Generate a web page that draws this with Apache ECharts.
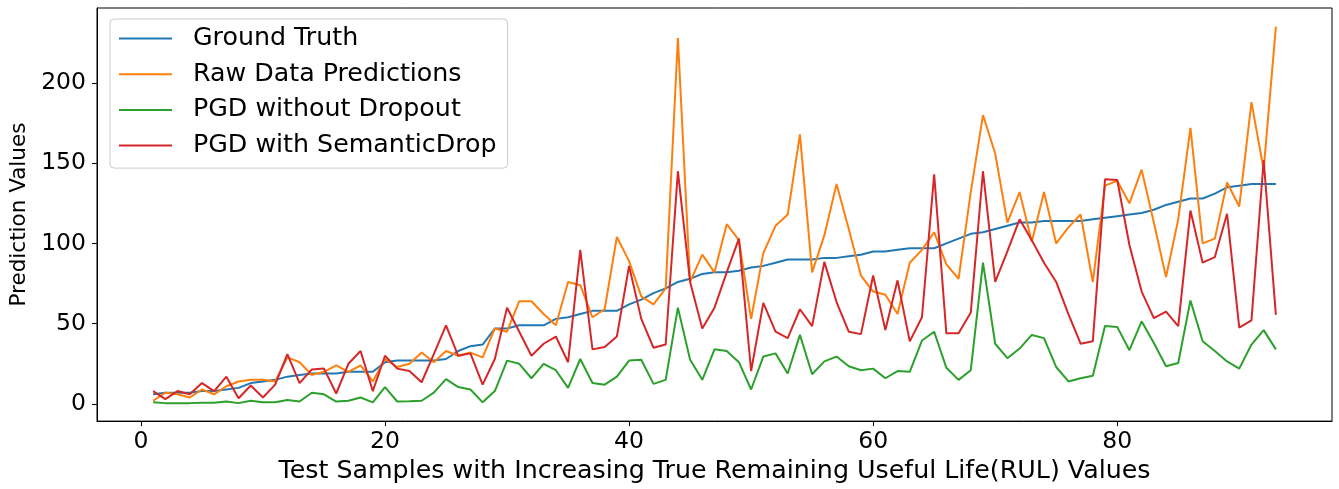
<!DOCTYPE html>
<html>
<head>
<meta charset="utf-8">
<script src="https://cdn.jsdelivr.net/npm/echarts@6/dist/echarts.min.js"></script>
<style>
  html, body { margin: 0; padding: 0; background: #fff; }
  #chart { width: 1339px; height: 489px; }
</style>
</head>
<body>
<div id="chart"></div>
<script>
const seriesNames = ["Ground Truth", "Raw Data Predictions", "PGD without Dropout", "PGD with SemanticDrop"];
const seriesColors = ["#1f77b4", "#ff7f0e", "#2ca02c", "#d62728"];

const groundTruth = [6,7,7,7,8,8,9,10,13,14,15,17,18,19,19,19,20,20,20,26,27,27,27,27,28,33,36,37,47,47,49,49,49,53,54,56,58,58,58,62,65,69,72,76,78,81,82,82,83,85,86,88,90,90,90,91,91,92,93,95,95,96,97,97,97,100,103,106,107,109,111,113,113,114,114,114,114,115,116,117,118,119,121,124,126,128,128,131,135,136,137,137,137];

const rawPred = [2,7,6,4,9,6,11,14,15,15,14,29,26,18,20,24,20,24,14,28,23,25,32,26,33,30,32,29,47,45,64,64,56,49,76,74,54,59,104,89,67,62,72,228,76,93,82,112,102,53,94,111,118,168,82,105,137,109,80,70,68,56,88,96,107,87,78,132,180,156,113,132,101,132,100,110,118,76,136,139,125,146,113,79,115,172,100,103,138,123,188,146,235];

const pgdNoDrop = [1,0.5,0.5,0.5,0.7,0.8,1.5,0.5,2,1,1,2.5,1.5,7,6,1.5,2,4,1,10.5,1.5,1.7,2,7,15.5,10.5,9,1,8,27,25,16,25,21,10,28,13,12,17,27,27.5,12.5,15,60,27.5,15,34,33,26,9,29.5,31.5,19,43,18.5,26.5,29.5,23.5,21,22,16,20.5,20,39.5,45,22.5,15,21,88,37.5,28.5,34.5,43,41,23,14,16,17.5,48.5,48,33.5,51.5,38,23.5,25.5,64.5,39,33,26.5,22,37,46,34];

const pgdSemDrop = [8,3,8,6,13,8,17,3.5,11.5,4,12,31,13,21.5,22,6.5,25,33,8,30,22,20.5,13.5,31,49,30,31.5,12,28,60,45,30,37.5,42,26,96,34,35.5,42,86,53,35,37,145,76,47,60,82,103,20.5,63,45,41,59,48.5,88.5,63.5,45,43.5,80,46,77,39,54,143,44,44,57,145,76,95,115,102,88,76,56,37.5,39,140,139.5,99,70,53.5,57.5,48.5,120.5,88,91.5,118.5,47.5,52,152,55.5];

const xTicks = [0, 20, 40, 60, 80];
const yTicks = [0, 50, 100, 150, 200];

const allSeries = [groundTruth, rawPred, pgdNoDrop, pgdSemDrop];

const chart = echarts.init(document.getElementById('chart'), null, { renderer: 'canvas' });
const font = "'DejaVu Sans', sans-serif";

chart.setOption({
  animation: false,
  backgroundColor: '#ffffff',
  grid: { left: 97, right: 7, top: 8, bottom: 65, show: true, borderColor: '#000', borderWidth: 1, backgroundColor: 'transparent' },
  legend: {
    orient: 'vertical',
    left: 110, top: 19,
    padding: [7, 11, 10, 9],
    itemWidth: 53, itemHeight: 2, itemGap: 10.7,
    icon: 'rect',
    backgroundColor: '#fff',
    borderColor: '#cccccc', borderWidth: 1, borderRadius: 4,
    textStyle: { fontFamily: font, fontSize: 25.3, color: '#000', lineHeight: 22, padding: [0, 0, 0, 16] },
    data: seriesNames
  },
  xAxis: {
    type: 'value', min: -3.6, max: 97.6,
    name: 'Test Samples with Increasing True Remaining Useful Life(RUL) Values',
    nameLocation: 'middle', nameGap: 33,
    nameTextStyle: { fontFamily: font, fontSize: 25.3, color: '#000' },
    splitLine: { show: false },
    axisLine: { show: true, onZero: false, lineStyle: { color: '#000', width: 1 } },
    axisTick: { show: true, length: 5, customValues: xTicks, lineStyle: { color: '#000' } },
    axisLabel: { customValues: xTicks, fontFamily: font, fontSize: 23.5, color: '#000', margin: 9 }
  },
  yAxis: {
    type: 'value', min: -10.7, max: 246.7,
    name: 'Prediction Values',
    nameLocation: 'middle', nameGap: 65, nameRotate: 90,
    nameTextStyle: { fontFamily: font, fontSize: 21.5, color: '#000' },
    splitLine: { show: false },
    axisLine: { show: true, onZero: false, lineStyle: { color: '#000', width: 1 } },
    axisTick: { show: true, length: 5, customValues: yTicks, lineStyle: { color: '#000' } },
    axisLabel: { customValues: yTicks, fontFamily: font, fontSize: 23.5, color: '#000', margin: 11 }
  },
  series: allSeries.map((arr, k) => ({
    name: seriesNames[k],
    type: 'line',
    showSymbol: false,
    symbol: 'none',
    color: seriesColors[k],
    lineStyle: { width: 2, color: seriesColors[k] },
    data: arr.map((v, i) => [i + 1, v])
  }))
});
</script>
</body>
</html>
